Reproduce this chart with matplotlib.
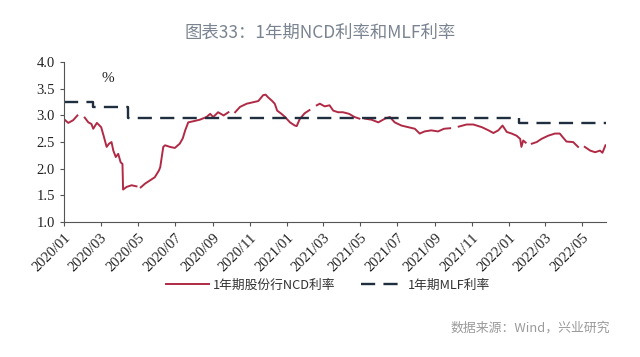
import matplotlib
matplotlib.use("Agg")
import matplotlib.pyplot as plt
import matplotlib.dates as mdates
import numpy as np
import pandas as pd

# 1年期股份行NCD利率 (None = holiday gap)
ncd_dates = [
    "2020-01-02", "2020-01-08", "2020-01-16", "2020-01-23", "2020-01-28",
    "2020-02-04", "2020-02-10", "2020-02-15", "2020-02-18", "2020-02-24",
    "2020-03-02", "2020-03-06", "2020-03-11", "2020-03-15", "2020-03-19",
    "2020-03-22", "2020-03-26", "2020-03-30", "2020-04-03", "2020-04-06",
    "2020-04-07", "2020-04-13", "2020-04-21", "2020-04-29", "2020-05-02",
    "2020-05-06", "2020-05-13", "2020-05-21", "2020-05-29", "2020-06-05",
    "2020-06-07", "2020-06-12", "2020-06-15", "2020-06-23", "2020-07-01",
    "2020-07-09", "2020-07-14", "2020-07-18", "2020-07-23", "2020-07-31",
    "2020-08-11", "2020-08-22", "2020-08-28", "2020-09-02", "2020-09-10",
    "2020-09-19", "2020-09-27", "2020-10-02", "2020-10-08", "2020-10-16",
    "2020-10-27", "2020-11-07", "2020-11-15", "2020-11-23", "2020-11-27",
    "2020-12-01", "2020-12-07", "2020-12-12", "2020-12-16", "2020-12-23",
    "2020-12-29", "2021-01-06", "2021-01-14", "2021-01-17", "2021-01-22",
    "2021-01-30", "2021-02-07", "2021-02-12", "2021-02-19", "2021-02-24",
    "2021-03-04", "2021-03-12", "2021-03-18", "2021-03-26", "2021-04-03",
    "2021-04-13", "2021-04-22", "2021-04-30", "2021-05-03", "2021-05-09",
    "2021-05-20", "2021-05-31", "2021-06-11", "2021-06-19", "2021-06-27",
    "2021-07-08", "2021-07-19", "2021-07-30", "2021-08-07", "2021-08-15",
    "2021-08-26", "2021-09-06", "2021-09-16", "2021-09-26", "2021-10-03",
    "2021-10-10", "2021-10-23", "2021-11-03", "2021-11-17", "2021-11-28",
    "2021-12-06", "2021-12-14", "2021-12-21", "2021-12-28", "2022-01-05",
    "2022-01-13", "2022-01-19", "2022-01-21", "2022-01-24", "2022-01-28",
    "2022-02-02", "2022-02-07", "2022-02-15", "2022-02-23", "2022-03-06",
    "2022-03-17", "2022-03-25", "2022-03-30", "2022-04-05", "2022-04-16",
    "2022-04-24", "2022-05-01", "2022-05-05", "2022-05-14", "2022-05-22",
    "2022-05-30", "2022-06-03", "2022-06-08",
]
ncd_values = [
    2.92, 2.86, 2.91, 3.00, None,
    2.96, 2.87, 2.84, 2.75, 2.86,
    2.78, 2.62, 2.41, 2.47, 2.50,
    2.34, 2.22, 2.28, 2.12, 2.09,
    1.61, 1.66, 1.69, 1.67, None,
    1.65, 1.72, 1.78, 1.84, 1.97,
    2.03, 2.41, 2.44, 2.41, 2.39,
    2.47, 2.57, 2.72, 2.87, 2.89,
    2.92, 2.97, 3.03, 2.97, 3.06,
    3.00, 3.06, None, 3.06, 3.16,
    3.22, 3.25, 3.27, 3.38, 3.39,
    3.34, 3.28, 3.22, 3.09, 3.03,
    2.97, 2.87, 2.81, 2.80, 2.93,
    3.04, 3.10, None, 3.19, 3.22,
    3.17, 3.19, 3.09, 3.06, 3.06,
    3.03, 2.97, 2.94, None, 2.94,
    2.92, 2.87, 2.94, 2.97, 2.87,
    2.81, 2.78, 2.75, 2.66, 2.70,
    2.72, 2.70, 2.75, 2.76, None,
    2.79, 2.83, 2.83, 2.78, 2.72,
    2.67, 2.72, 2.81, 2.69, 2.66,
    2.62, 2.56, 2.41, 2.53, 2.49,
    None, 2.47, 2.50, 2.56, 2.62,
    2.66, 2.66, 2.59, 2.51, 2.50,
    2.41, None, 2.41, 2.34, 2.31,
    2.34, 2.30, 2.44,
]

# 1年期MLF利率 (step changes)
mlf_dates = ["2020-01-01", "2020-02-17", "2020-04-15", "2022-01-17", "2022-06-09"]
mlf_values = [3.25, 3.15, 2.95, 2.85, 2.85]

ncd = pd.Series([np.nan if v is None else v for v in ncd_values],
                index=pd.to_datetime(ncd_dates))
mlf = pd.Series(mlf_values, index=pd.to_datetime(mlf_dates))

plt.rcParams['font.family'] = ['Noto Sans CJK SC', 'DejaVu Sans']

fig = plt.figure(figsize=(6.4, 3.57), dpi=100)
ax = fig.add_axes([0.1, 0.378, 0.847, 0.448])

ax.plot(ncd.index, ncd.values, color='#b02a45', lw=1.4, label='1年期股份行NCD利率')
ax.plot(mlf.index, mlf.values, color='#1f2f3f', lw=1.7, drawstyle='steps-post',
        linestyle=(0, (6, 3.5)), label='1年期MLF利率')

ax.set_ylim(1.0, 4.0)
ax.set_yticks(np.arange(1.0, 4.01, 0.5))
ax.set_xlim(pd.Timestamp("2020-01-01"), pd.Timestamp("2022-06-09"))
xticks = pd.date_range("2020-01-01", "2022-05-01", freq="2MS")
ax.set_xticks(xticks)
ax.xaxis.set_major_formatter(mdates.DateFormatter('%Y/%m'))

for s in ['top', 'right']:
    ax.spines[s].set_visible(False)
for s in ['left', 'bottom']:
    ax.spines[s].set_color('#555555')
    ax.spines[s].set_linewidth(0.8)
ax.tick_params(axis='both', colors='#555555', length=3, width=0.8, labelcolor='#222222')

for lab in ax.get_yticklabels():
    lab.set_family('Liberation Serif')
    lab.set_fontsize(10.5)
for lab in ax.get_xticklabels():
    lab.set_family('Liberation Serif')
    lab.set_fontsize(10.5)
    lab.set_rotation(45)
    lab.set_ha('right')
    lab.set_rotation_mode('anchor')

fig.text(108 / 640, 1 - 78 / 357, '%', fontsize=11, family='Liberation Serif',
         ha='center', va='center', color='#222222')

fig.text(0.5, 1 - 33 / 357, '图表33：1年期NCD利率和MLF利率', fontsize=12.5,
         ha='center', va='center', color='#7a8491')

leg = fig.legend(loc='center', bbox_to_anchor=(328 / 640, 1 - 285 / 357), ncol=2,
                 frameon=False, fontsize=9.2, handlelength=3.4, columnspacing=2.0,
                 handletextpad=0.3)
for t in leg.get_texts():
    t.set_color('#333333')

fig.text(610 / 640, 1 - 328 / 357, '数据来源：Wind，兴业研究', fontsize=9.3,
         ha='right', va='center', color='#9a9a9a')

fig.savefig('out.png', dpi=100, facecolor='white')
